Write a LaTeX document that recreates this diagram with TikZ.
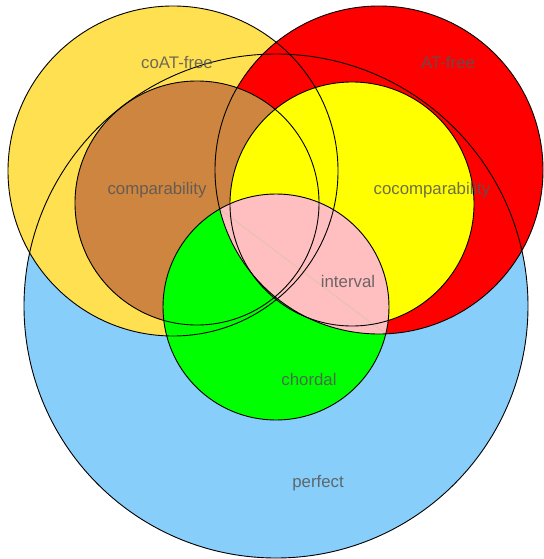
\documentclass[tikz,border=0pt]{standalone}
\usepackage{fontspec}
\setmainfont{Liberation Sans}
\usetikzlibrary{intersections}
\definecolor{perfectc}{RGB}{135,206,250}
\definecolor{coatc}{RGB}{255,224,80}
\definecolor{atc}{RGB}{255,0,0}
\definecolor{compc}{RGB}{205,133,63}
\definecolor{cocompc}{RGB}{255,255,0}
\definecolor{chordc}{RGB}{0,255,0}
\definecolor{intc}{RGB}{255,190,192}
\definecolor{labc}{RGB}{85,85,85}
\definecolor{chordline}{RGB}{205,200,160}
\tikzset{
  setline/.style={draw=black, line width=0.9pt},
  setlabel/.style={text=labc, text opacity=0.85, inner sep=0pt, anchor=base,
    font=\fontsize{16.8}{20}\selectfont}
}
\begin{document}
\begin{tikzpicture}[x=1pt,y=-1pt]
\useasboundingbox (0,0) rectangle (543,559);
% fills
\fill[perfectc] (276,306) circle[radius=252pt];
\fill[coatc] (173,171) circle[radius=165pt];
\fill[atc] (379,170) circle[radius=164pt];
\fill[compc] (197,203) circle[radius=122pt];
\fill[cocompc] (352,204) circle[radius=122pt];
\fill[chordc] (276,307) circle[radius=113pt];
\begin{scope}
  \clip (379,170) circle[radius=164pt];
  \fill[intc] (276,307) circle[radius=113pt];
\end{scope}
% chord artefact
\path[name path=gc] (276,307) circle[radius=113pt];
\path[name path=ac] (379,170) circle[radius=164pt];
\path[name intersections={of=gc and ac, by={i1,i2}}];
\draw[chordline, line width=0.5pt] (i1) -- (i2);
% outlines
\draw[setline] (276,306) circle[radius=252pt];
\draw[setline] (173,171) circle[radius=165pt];
\draw[setline] (379,170) circle[radius=164pt];
\draw[setline] (197,203) circle[radius=122pt];
\draw[setline] (352,204) circle[radius=122pt];
\draw[setline] (276,307) circle[radius=113pt];
% labels
\node[setlabel] (lcoat) at (177,69) {coAT-free};
\node[setlabel] (lat) at (448,69) {AT-free};
\node[setlabel] (lcomp) at (157,194) {comparability};
\node[setlabel] (lcocomp) at (432,194) {cocomparability};
\node[setlabel] (lint) at (348,287) {interval};
\node[setlabel] (lchord) at (309,385) {chordal};
\node[setlabel] (lperf) at (318,487) {perfect};
\end{tikzpicture}
\end{document}
